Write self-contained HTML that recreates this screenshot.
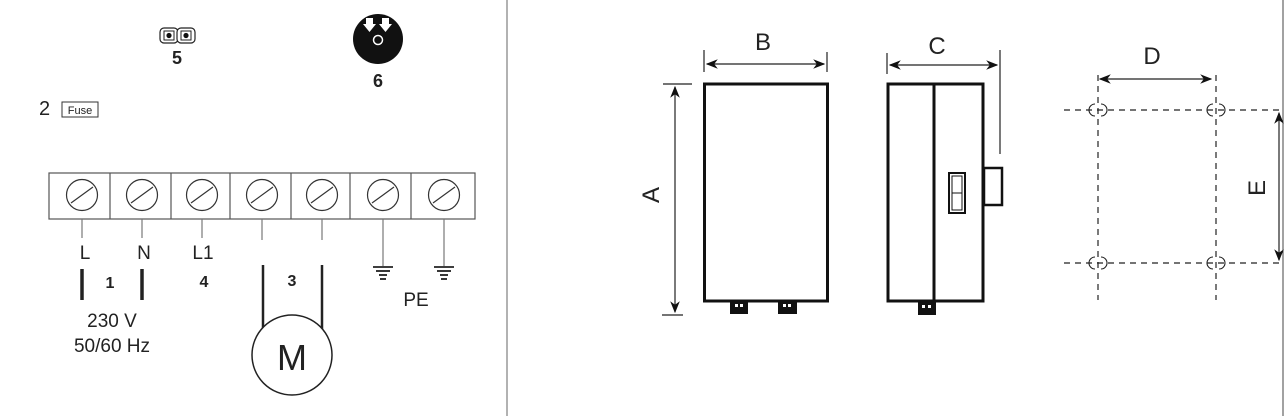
<!DOCTYPE html>
<html><head><style>html,body{margin:0;padding:0;background:#fff}svg{display:block}</style></head>
<body>
<svg width="1284" height="416" viewBox="0 0 1284 416" xmlns="http://www.w3.org/2000/svg" font-family="Liberation Sans, sans-serif">
<defs>
<marker id="ar" viewBox="0 0 10 10" refX="9" refY="5" markerWidth="10" markerHeight="10" orient="auto-start-reverse"><path d="M0,1 L10,5 L0,9 L3,5 z" fill="#111"/></marker>
</defs>
<line x1="507" y1="0" x2="507" y2="416" stroke="#999" stroke-width="1.5"/>
<line x1="1283" y1="0" x2="1283" y2="416" stroke="#444" stroke-width="1"/>

<rect x="160" y="28" width="18" height="15" rx="4" fill="#fff" stroke="#222" stroke-width="1.2"/>
<rect x="177" y="28" width="18" height="15" rx="4" fill="#fff" stroke="#222" stroke-width="1.2"/>
<rect x="164" y="31" width="10" height="9" fill="#fff" stroke="#222"/><circle cx="169" cy="35.5" r="2.6" fill="#111"/>
<rect x="181" y="31" width="10" height="9" fill="#fff" stroke="#222"/><circle cx="186" cy="35.5" r="2.6" fill="#111"/>
<text x="177" y="64" font-size="18" font-weight="bold" text-anchor="middle" fill="#222">5</text>
<circle cx="378" cy="39" r="25" fill="#111"/>
<path d="M366,18 h7 v6 h3 l-6.5,8 l-6.5,-8 h3z" fill="#fff"/>
<path d="M382,18 h7 v6 h3 l-6.5,8 l-6.5,-8 h3z" fill="#fff"/>
<circle cx="378" cy="40" r="4.5" fill="none" stroke="#fff" stroke-width="1.5"/>
<text x="378" y="87" font-size="18" font-weight="bold" text-anchor="middle" fill="#222">6</text>
<text x="39" y="115" font-size="20" fill="#222">2</text>
<rect x="62" y="102" width="36" height="15" fill="#fff" stroke="#333"/>
<text x="80" y="114" font-size="11" text-anchor="middle" fill="#222">Fuse</text>

<rect x="49" y="173" width="426" height="46" fill="#fff" stroke="#555" stroke-width="1.2"/>
<g stroke="#555" stroke-width="1.2">
<line x1="110" y1="173" x2="110" y2="219"/><line x1="171" y1="173" x2="171" y2="219"/><line x1="230" y1="173" x2="230" y2="219"/><line x1="291" y1="173" x2="291" y2="219"/><line x1="350" y1="173" x2="350" y2="219"/><line x1="411" y1="173" x2="411" y2="219"/>
</g>
<g fill="none" stroke="#333" stroke-width="1.2">
<circle cx="82" cy="195" r="15.5"/><line x1="71" y1="203" x2="93" y2="187"/>
<circle cx="142" cy="195" r="15.5"/><line x1="131" y1="203" x2="153" y2="187"/>
<circle cx="202" cy="195" r="15.5"/><line x1="191" y1="203" x2="213" y2="187"/>
<circle cx="262" cy="195" r="15.5"/><line x1="251" y1="203" x2="273" y2="187"/>
<circle cx="322" cy="195" r="15.5"/><line x1="311" y1="203" x2="333" y2="187"/>
<circle cx="383" cy="195" r="15.5"/><line x1="372" y1="203" x2="394" y2="187"/>
<circle cx="444" cy="195" r="15.5"/><line x1="433" y1="203" x2="455" y2="187"/>
</g>
<g stroke="#777" stroke-width="1.2">
<line x1="82" y1="219" x2="82" y2="238"/><line x1="142" y1="219" x2="142" y2="238"/><line x1="202" y1="219" x2="202" y2="238"/>
<line x1="262" y1="219" x2="262" y2="240"/><line x1="322" y1="219" x2="322" y2="240"/>
<line x1="383" y1="219" x2="383" y2="266"/><line x1="444" y1="219" x2="444" y2="266"/>
</g>
<g font-size="19" fill="#222" text-anchor="middle">
<text x="85" y="259">L</text><text x="144" y="259">N</text><text x="203" y="259">L1</text>
<text x="416" y="306">PE</text>
<text x="112" y="327">230 V</text><text x="112" y="352">50/60 Hz</text>
</g>
<g font-size="16" font-weight="bold" fill="#222" text-anchor="middle">
<text x="110" y="288">1</text><text x="204" y="287">4</text><text x="292" y="286">3</text>
</g>
<g stroke="#222" stroke-width="3.5">
<line x1="82" y1="269" x2="82" y2="300"/><line x1="142" y1="269" x2="142" y2="300"/>
</g>
<g stroke="#222" stroke-width="2.5" fill="none">
<path d="M263,265 V330"/><path d="M322,265 V330"/>
</g>
<circle cx="292" cy="355" r="40" fill="#fff" stroke="#222" stroke-width="1.5"/>
<text x="292" y="370" font-size="36" text-anchor="middle" fill="#222">M</text>
<g stroke="#222" stroke-width="1.8">
<line x1="373" y1="267" x2="393" y2="267"/><line x1="376" y1="271" x2="390" y2="271"/><line x1="379" y1="275" x2="387" y2="275"/><line x1="380" y1="279" x2="386" y2="279"/>
<line x1="434" y1="267" x2="454" y2="267"/><line x1="437" y1="271" x2="451" y2="271"/><line x1="440" y1="275" x2="448" y2="275"/><line x1="441" y1="279" x2="447" y2="279"/>
</g>

<rect x="704.5" y="84" width="123" height="217" fill="#fff" stroke="#111" stroke-width="3"/>
<rect x="730" y="301" width="18" height="13" fill="#111"/><rect x="778" y="301" width="19" height="13" fill="#111"/>
<rect x="735" y="304" width="3" height="3" fill="#fff"/><rect x="740" y="304" width="3" height="3" fill="#fff"/>
<rect x="783" y="304" width="3" height="3" fill="#fff"/><rect x="788" y="304" width="3" height="3" fill="#fff"/>
<g stroke="#222" stroke-width="1.2">
<line x1="704" y1="50" x2="704" y2="72"/><line x1="827" y1="52" x2="827" y2="72"/>
<line x1="707" y1="64" x2="824" y2="64" marker-start="url(#ar)" marker-end="url(#ar)"/>
<line x1="663" y1="84" x2="692" y2="84"/><line x1="662" y1="315" x2="683" y2="315"/>
<line x1="675" y1="87" x2="675" y2="312" marker-start="url(#ar)" marker-end="url(#ar)"/>
</g>
<text x="763" y="50" font-size="24" text-anchor="middle" fill="#222">B</text>
<text x="0" y="0" font-size="24" text-anchor="middle" fill="#222" transform="translate(659,195) rotate(-90)">A</text>

<rect x="888" y="84" width="95" height="217" fill="#fff" stroke="#111" stroke-width="3"/>
<line x1="934" y1="84" x2="934" y2="301" stroke="#111" stroke-width="3"/>
<rect x="984" y="168" width="18" height="37" fill="#fff" stroke="#111" stroke-width="2.5"/>
<rect x="949" y="173" width="16" height="40" fill="#fff" stroke="#111" stroke-width="2"/>
<rect x="952" y="176" width="10" height="34" fill="#fff" stroke="#111" stroke-width="1"/>
<line x1="952" y1="193" x2="962" y2="193" stroke="#111"/>
<rect x="918" y="301" width="18" height="14" fill="#111"/>
<rect x="922" y="305" width="3" height="3" fill="#fff"/><rect x="928" y="305" width="3" height="3" fill="#fff"/>
<g stroke="#222" stroke-width="1.2">
<line x1="887" y1="53" x2="887" y2="74"/><line x1="1000" y1="50" x2="1000" y2="154"/>
<line x1="890" y1="65" x2="997" y2="65" marker-start="url(#ar)" marker-end="url(#ar)"/>
</g>
<text x="937" y="54" font-size="24" text-anchor="middle" fill="#222">C</text>

<g stroke="#222" stroke-width="1.2" stroke-dasharray="6,5" fill="none">
<line x1="1098" y1="75" x2="1098" y2="300"/><line x1="1216" y1="75" x2="1216" y2="300"/>
<line x1="1064" y1="110" x2="1282" y2="110"/><line x1="1064" y1="263" x2="1282" y2="263"/>
</g>
<g stroke="#222" stroke-width="1.1" fill="none">
<path d="M1095,104 a6,6 0 0 0 0,12"/><path d="M1101,104 a6,6 0 0 1 0,12"/>
<path d="M1213,104 a6,6 0 0 0 0,12"/><path d="M1219,104 a6,6 0 0 1 0,12"/>
<path d="M1095,257 a6,6 0 0 0 0,12"/><path d="M1101,257 a6,6 0 0 1 0,12"/>
<path d="M1213,257 a6,6 0 0 0 0,12"/><path d="M1219,257 a6,6 0 0 1 0,12"/>
</g>
<g stroke="#222" stroke-width="1.2">
<line x1="1100" y1="79" x2="1211" y2="79" marker-start="url(#ar)" marker-end="url(#ar)"/>
<line x1="1279" y1="113" x2="1279" y2="260" marker-start="url(#ar)" marker-end="url(#ar)"/>
</g>
<text x="1152" y="64" font-size="24" text-anchor="middle" fill="#222">D</text>
<text x="0" y="0" font-size="24" text-anchor="middle" fill="#222" transform="translate(1265,188) rotate(-90)">E</text>
</svg>
</body></html>
